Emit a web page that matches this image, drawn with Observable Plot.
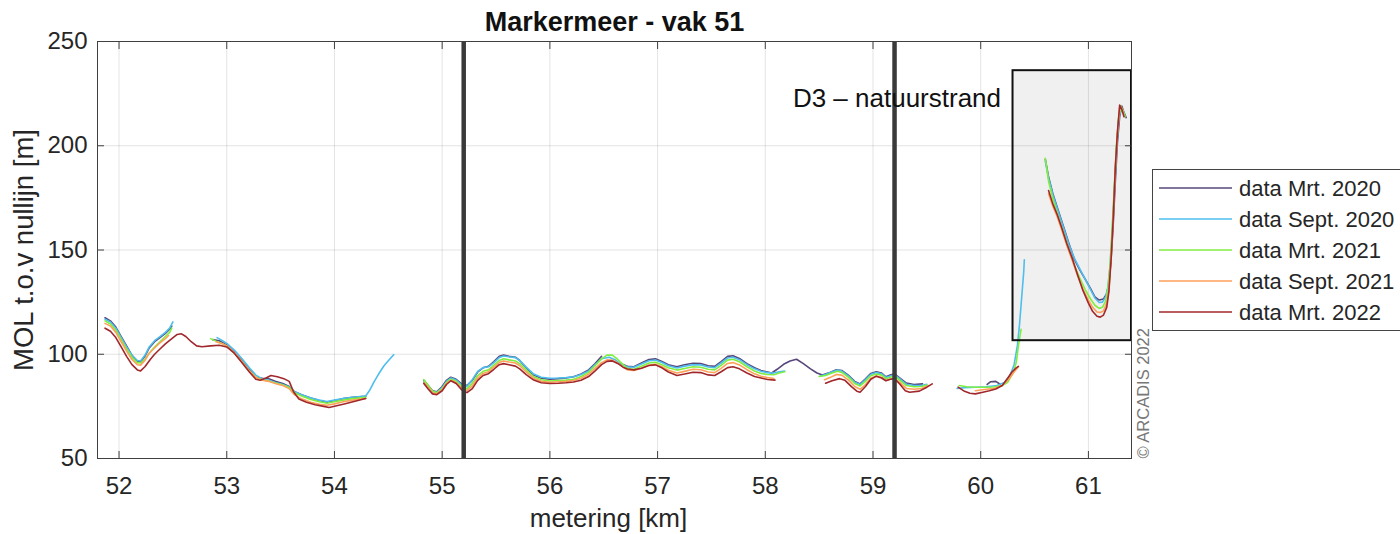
<!DOCTYPE html>
<html>
<head>
<meta charset="utf-8">
<script src="https://cdn.jsdelivr.net/npm/d3@7"></script>
<script src="https://cdn.jsdelivr.net/npm/@observablehq/plot@0.6"></script>
<style>
  html, body { margin: 0; padding: 0; background: #fff; }
  #chart { width: 1400px; height: 534px; }
</style>
</head>
<body>
<div id="chart"></div>
<script>
// Survey lines along the Markermeer shore, section 51: MOL position relative to the baseline per survey.
const surveyNames = ["data Mrt. 2020", "data Sept. 2020", "data Mrt. 2021", "data Sept. 2021", "data Mrt. 2022"];
const surveyColors = ["#57477a", "#4dbeee", "#80ee40", "#ffa05a", "#a0282c"];

// [km, MOL m]; null marks a gap in the survey
const mrt2020 = [
  [51.87,117.5],[51.92,116],[51.97,113],[52.02,108.5],[52.07,104],[52.12,99.5],[52.17,96.5],[52.2,96.3],[52.24,99],[52.28,103],[52.33,106],[52.38,108],[52.43,110],[52.47,112],[52.49,113.5], null,
  [52.87,107],[52.93,106.5],[53.0,104.5],[53.07,101],[53.14,97],[53.21,92.5],[53.27,89],[53.33,88.5],[53.39,88.3],[53.45,87],[53.52,86],[53.58,84.5],[53.63,82],[53.7,80.5],[53.78,79],[53.86,77.8],[53.93,77],[54.0,77.8],[54.08,78.7],[54.17,79.3],[54.29,79.8], null,
  [54.83,87.5],[54.87,85],[54.91,82.5],[54.95,82],[55.0,84.5],[55.04,87.5],[55.08,89],[55.13,88],[55.18,85.8],[55.23,85],[55.28,87.5],[55.33,91.5],[55.38,93.5],[55.43,94.2],[55.48,96.5],[55.53,99],[55.57,99.6],[55.62,99],[55.68,98.6],[55.72,97],[55.78,93.5],[55.85,90],[55.92,88.5],[56.0,88],[56.08,88.3],[56.15,88.6],[56.22,89.2],[56.29,90.5],[56.36,92.5],[56.42,95.5],[56.48,99], null,
  [56.66,95.5],[56.72,94.2],[56.78,94],[56.85,95.8],[56.92,97.5],[56.98,97.8],[57.04,96.5],[57.1,95],[57.18,94],[57.25,95],[57.33,95.7],[57.4,95.5],[57.47,94.5],[57.53,94.2],[57.59,96.5],[57.65,99],[57.7,99.3],[57.76,98],[57.83,95.5],[57.9,93.5],[57.96,92.2],[58.02,91.5],[58.06,91],[58.11,92.8],[58.17,95.2],[58.23,96.8],[58.29,97.6],[58.35,95.6],[58.42,93],[58.48,91],[58.53,90],[58.6,91.2],[58.66,92.6],[58.71,92.2],[58.77,90],[58.83,87],[58.88,85.8],[58.93,88.2],[58.98,90.8],[59.03,91.6],[59.08,91],[59.12,89.2],[59.16,90],[59.2,90.6],[59.25,88.6],[59.31,86.2],[59.38,85.5],[59.46,85.8], null,
  [60.06,85.5],[60.09,86.8],[60.14,87],[60.18,85.6], null,
  [60.6,193.5],[60.63,185],[60.67,177],[60.72,169],[60.77,161],[60.82,153],[60.87,145.5],[60.92,140.5],[60.97,136],[61.02,131.5],[61.06,127.5],[61.1,126],[61.14,126.5],[61.17,129],[61.19,134],[61.21,145],[61.23,162],[61.25,183],[61.27,202],[61.29,214],[61.31,219],[61.33,216],[61.35,213.5]
];

const sept2020 = [
  [51.87,116.8],[51.92,115.5],[51.97,112.5],[52.02,108],[52.07,103.5],[52.12,99.5],[52.17,97],[52.2,96.8],[52.24,99.5],[52.28,103.5],[52.33,106.5],[52.38,108.5],[52.43,110.5],[52.47,112.5],[52.5,115.5], null,
  [52.91,108],[52.96,106.5],[53.0,105.2],[53.07,102],[53.14,98],[53.21,93.5],[53.27,90],[53.33,88.2],[53.39,87.5],[53.45,86.5],[53.52,85.5],[53.58,84.3],[53.63,82],[53.7,80.5],[53.78,79],[53.86,78],[53.93,77.3],[54.0,78],[54.08,78.8],[54.17,79.4],[54.29,80],[54.33,83],[54.37,87],[54.41,90.5],[54.46,94.5],[54.51,97.5],[54.55,99.8], null,
  [54.83,87],[54.87,84.6],[54.91,82.2],[54.95,81.7],[55.0,84],[55.04,87],[55.08,88.6],[55.13,87.6],[55.18,85.3],[55.23,84.6],[55.28,87.8],[55.33,91.8],[55.38,93.6],[55.43,94],[55.48,96],[55.53,98.4],[55.57,99.2],[55.62,98.8],[55.68,98.4],[55.72,97],[55.78,93.8],[55.85,90.5],[55.92,89],[56.0,88.5],[56.08,88.6],[56.15,88.8],[56.22,89.2],[56.29,90.3],[56.36,92],[56.42,95],[56.48,97.8],[56.55,98.6],[56.61,97.2],[56.66,95.2],[56.72,94],[56.78,93.8],[56.85,95.3],[56.92,96.9],[56.98,97.2],[57.04,96],[57.1,94.5],[57.18,93.4],[57.25,94.3],[57.33,95],[57.4,94.9],[57.47,93.9],[57.53,93.6],[57.59,95.8],[57.65,98.2],[57.7,98.6],[57.76,97.4],[57.83,95],[57.9,93],[57.96,91.8],[58.02,91.2],[58.08,91],[58.13,91.6],[58.18,91.9], null,
  [58.51,89.6],[58.56,90.3],[58.62,91.6],[58.67,92.4],[58.71,91.9],[58.77,89.6],[58.83,86.6],[58.88,85.5],[58.93,87.8],[58.98,90.4],[59.03,91.2],[59.08,90.6],[59.12,88.9],[59.16,89.6],[59.2,90.2],[59.25,88.2],[59.31,85.6],[59.38,85],[59.45,85],[59.5,85.6], null,
  [59.78,83.6],[59.85,84],[59.95,84.2],[60.05,84.4],[60.15,85],[60.22,86.5],[60.27,89.5],[60.31,95],[60.34,104],[60.36,114],[60.38,127],[60.4,140],[60.405,145.3], null,
  [60.6,192.5],[60.63,184.5],[60.67,176.5],[60.72,168.5],[60.77,160.5],[60.82,152.5],[60.87,146],[60.92,141],[60.97,136],[61.02,131],[61.06,127],[61.1,124.8],[61.13,125],[61.16,127.5],[61.18,132],[61.2,142],[61.22,158],[61.24,178],[61.26,198],[61.28,212],[61.3,218],[61.32,217],[61.34,214]
];

const mrt2021 = [
  [51.87,116],[51.92,114.5],[51.97,111.5],[52.02,107],[52.07,102.5],[52.12,98.5],[52.17,96],[52.2,95.8],[52.24,97.5],[52.28,100.5],[52.33,103.5],[52.38,106],[52.43,108.5],[52.47,110.5],[52.49,112.5], null,
  [52.85,107.5],[52.9,106.3],[52.96,105],[53.0,104],[53.07,100.5],[53.14,96.5],[53.21,92],[53.27,89],[53.33,87.8],[53.39,87.2],[53.45,86.2],[53.52,85.2],[53.58,84],[53.63,81.5],[53.7,79.8],[53.78,78.3],[53.86,77.2],[53.93,76.5],[54.0,77.2],[54.08,78],[54.17,78.7],[54.29,79.3], null,
  [54.83,87.8],[54.87,85],[54.91,82.3],[54.95,81.5],[55.0,83.5],[55.04,86.5],[55.08,88],[55.13,87],[55.18,84.5],[55.23,83.5],[55.28,86],[55.33,89.8],[55.38,91.8],[55.43,92.5],[55.48,94.8],[55.53,97],[55.57,97.8],[55.62,97.3],[55.68,96.8],[55.72,95.5],[55.78,92.5],[55.85,89.2],[55.92,87.8],[56.0,87.2],[56.08,87.4],[56.15,87.6],[56.22,88],[56.29,89.3],[56.36,91.3],[56.42,94.5],[56.48,97.8],[56.53,99.6],[56.58,99.6],[56.63,97.5],[56.68,95],[56.72,93.2],[56.78,92.8],[56.85,94.2],[56.92,95.8],[56.98,96.2],[57.04,95],[57.1,93.5],[57.18,92.4],[57.25,93.2],[57.33,94],[57.4,93.8],[57.47,92.8],[57.53,92.5],[57.59,94.7],[57.65,97.2],[57.7,97.6],[57.76,96.4],[57.83,94],[57.9,92],[57.96,90.8],[58.02,90.3],[58.08,90.2],[58.13,91],[58.18,91.6], null,
  [58.5,89.3],[58.56,89.8],[58.62,91],[58.67,91.8],[58.71,91.3],[58.77,89],[58.83,86],[58.88,84.8],[58.93,87],[58.98,89.7],[59.03,90.5],[59.08,90],[59.12,88.3],[59.16,89],[59.2,89.6],[59.25,87.5],[59.31,85],[59.38,84.4],[59.45,84.5],[59.5,85.2], null,
  [59.8,85],[59.87,84.4],[59.95,84.2],[60.05,84.2],[60.12,84.3],[60.2,85],[60.25,86.5],[60.3,91],[60.33,96],[60.35,104],[60.375,112], null,
  [60.6,194],[60.63,183],[60.67,174.5],[60.72,166],[60.77,158],[60.82,150],[60.87,142.5],[60.92,136.5],[60.97,131],[61.02,126.5],[61.06,123.5],[61.1,122],[61.13,122.5],[61.16,125.5],[61.18,131],[61.2,142],[61.22,160],[61.24,180],[61.26,200],[61.28,213],[61.3,219],[61.32,217],[61.34,214]
];

const sept2021 = [
  [51.87,114.8],[51.92,113.5],[51.97,110.5],[52.02,106],[52.07,101.5],[52.12,97.5],[52.17,95],[52.2,94.8],[52.24,97],[52.28,100.5],[52.33,103],[52.38,105.5],[52.43,107.5],[52.46,109], null,
  [52.9,106],[52.96,105],[53.0,104],[53.07,100.8],[53.14,96.5],[53.21,92],[53.27,88.8],[53.33,87.5],[53.39,87],[53.45,86],[53.52,85],[53.58,83.5],[53.63,80.5],[53.7,78.5],[53.78,77],[53.86,76],[53.93,75.5],[54.0,76.2],[54.08,77.2],[54.17,78],[54.29,78.8], null,
  [54.83,86.5],[54.87,84],[54.91,81.5],[54.95,81],[55.0,83],[55.04,86],[55.08,87.5],[55.13,86.4],[55.18,83.8],[55.23,82.6],[55.28,84.8],[55.33,88.6],[55.38,90.8],[55.43,91.6],[55.48,93.8],[55.53,96],[55.57,96.8],[55.62,96.3],[55.68,95.8],[55.72,94.5],[55.78,91.5],[55.85,88.4],[55.92,87],[56.0,86.6],[56.08,86.8],[56.15,87],[56.22,87.4],[56.29,88.5],[56.36,90.4],[56.42,93.2],[56.48,96],[56.53,97.3],[56.58,97.2],[56.63,95.8],[56.68,93.8],[56.72,92.5],[56.78,92.2],[56.85,93.3],[56.92,94.8],[56.98,95.2],[57.04,94],[57.1,92.3],[57.18,91],[57.25,91.8],[57.33,92.8],[57.4,92.6],[57.47,91.5],[57.53,91.2],[57.59,93.2],[57.65,95.6],[57.7,96],[57.76,94.9],[57.83,92.6],[57.9,90.6],[57.96,89.4],[58.02,88.8],[58.08,88.4], null,
  [58.55,87.8],[58.6,88.8],[58.66,90.3],[58.71,90],[58.77,87.7],[58.83,84.5],[58.88,83.2],[58.93,85.5],[58.98,88.5],[59.03,89.5],[59.08,89],[59.12,87.4],[59.16,88],[59.2,88.6],[59.25,86.4],[59.31,83.6],[59.38,83.2],[59.45,83.6],[59.52,85], null,
  [59.95,82.5],[60.05,83.2],[60.12,83.5],[60.2,85],[60.26,88],[60.31,91.5],[60.35,94], null,
  [60.63,177],[60.67,171],[60.71,166],[60.75,160],[60.8,152],[60.85,145],[60.9,137.5],[60.95,131],[61.0,126],[61.04,122.5],[61.08,120.3],[61.11,120],[61.14,120.8],[61.17,124.5],[61.19,131],[61.21,146],[61.23,165],[61.25,188],[61.27,206],[61.29,218],[61.31,218],[61.33,214]
];

const mrt2022 = [
  [51.87,112.5],[51.92,111],[51.97,108],[52.02,103.5],[52.07,99],[52.12,95],[52.17,92.5],[52.2,92],[52.24,94],[52.29,97.5],[52.33,100],[52.38,102.5],[52.43,105],[52.49,107.5],[52.54,109.5],[52.58,109.8],[52.62,108.5],[52.67,106],[52.72,104],[52.77,103.6],[52.85,104],[52.93,104.3],[53.0,103.5],[53.07,100.5],[53.14,96],[53.21,91.5],[53.27,88],[53.31,87.5],[53.36,88.5],[53.41,89.8],[53.47,89.2],[53.53,88.3],[53.58,87],[53.62,82],[53.67,78.5],[53.74,77],[53.82,75.8],[53.9,75],[53.95,74.5],[54.02,75.3],[54.1,76.3],[54.19,77.5],[54.29,78.8], null,
  [54.83,86],[54.87,83.3],[54.91,81],[54.95,80.6],[55.0,82.5],[55.04,85.5],[55.08,87.3],[55.13,86],[55.18,83],[55.23,81.6],[55.28,83.5],[55.33,87.5],[55.38,89.8],[55.43,90.7],[55.48,92.8],[55.53,95],[55.57,95.5],[55.62,95],[55.68,94.3],[55.72,93],[55.78,90.2],[55.85,87.6],[55.92,86.3],[56.0,86],[56.08,86.1],[56.15,86.3],[56.22,86.7],[56.29,87.5],[56.36,89.3],[56.42,92],[56.48,95],[56.53,96.6],[56.58,96.8],[56.63,95.6],[56.68,93.8],[56.72,92.9],[56.78,92.5],[56.85,93.3],[56.92,94.6],[56.98,94.9],[57.04,93.5],[57.1,91.5],[57.18,89.8],[57.25,90.5],[57.33,91.4],[57.4,91.2],[57.47,90.1],[57.53,89.8],[57.59,91.6],[57.65,93.6],[57.7,94],[57.76,93],[57.83,91],[57.9,89.3],[57.96,88.6],[58.02,87.9],[58.09,87.6], null,
  [58.56,86.1],[58.62,87.3],[58.69,88.3],[58.74,87.5],[58.8,84.5],[58.85,82.3],[58.88,81.8],[58.93,84.5],[58.98,88],[59.03,89.5],[59.08,88.6],[59.12,87.3],[59.16,88],[59.2,88.3],[59.25,85.6],[59.3,82.5],[59.34,81.8],[59.43,82.3],[59.5,84.2],[59.55,85.8], null,
  [59.79,84.2],[59.85,82.2],[59.9,81.3],[59.95,81],[60.02,81.8],[60.08,82.5],[60.14,83.3],[60.2,85],[60.25,88.5],[60.29,91.5],[60.33,93.5],[60.35,94.2], null,
  [60.63,178.5],[60.67,172],[60.71,167],[60.75,161],[60.8,153],[60.85,146],[60.9,138],[60.95,130.5],[61.0,124.5],[61.04,120.5],[61.08,118.2],[61.11,117.8],[61.14,118.8],[61.17,122.5],[61.19,130],[61.21,145],[61.23,165],[61.25,190],[61.27,207],[61.29,219.5],[61.31,217.5],[61.33,214]
];

const surveys = [mrt2020, sept2020, mrt2021, sept2021, mrt2022];

// Axis ticks
const kmTicks = [52, 53, 54, 55, 56, 57, 58, 59, 60, 61];
const molTicks = [50, 100, 150, 200, 250];

// Section boundaries (thick vertical lines) and the D3 beach area
const sectionBounds = [55.2, 59.2];
const beachArea = [{x1: 60.3, x2: 61.4, y1: 106.5, y2: 236}];
const beachLabel = "D3 – natuurstrand";
const beachLabelMol = 222.7;

const titleText = "Markermeer - vak 51";
const xLabel = "metering [km]";
const yLabel = "MOL t.o.v nullijn [m]";
const creditText = "© ARCADIS 2022";

const rows = surveys.flatMap((pts, i) =>
  pts.map(p => p === null
    ? {km: NaN, mol: NaN, survey: surveyNames[i]}
    : {km: p[0], mol: p[1], survey: surveyNames[i]}));

const FONT = "'Liberation Sans', Arial, Helvetica, sans-serif";
const INK = "#262626";

const chart = Plot.plot({
  width: 1400,
  height: 534,
  marginLeft: 97,
  marginRight: 269,
  marginTop: 41,
  marginBottom: 76,
  style: {fontFamily: FONT, background: "#fff", color: INK, overflow: "visible"},
  x: {domain: [51.8, 61.4], label: null},
  y: {domain: [50, 250], label: null},
  color: {domain: surveyNames, range: surveyColors},
  marks: [
    Plot.rect(beachArea, {x1: "x1", x2: "x2", y1: "y1", y2: "y2", fill: "#f0f0f0"}),
    Plot.gridX(kmTicks, {stroke: "#000", strokeOpacity: 0.11}),
    Plot.gridY(molTicks, {stroke: "#000", strokeOpacity: 0.11}),
    Plot.line(rows, {x: "km", y: "mol", z: "survey", stroke: "survey", strokeWidth: 1.6, curve: "linear"}),
    Plot.ruleX(sectionBounds, {stroke: "#3a3a3a", strokeWidth: 4.5}),
    Plot.rect(beachArea, {x1: "x1", x2: "x2", y1: "y1", y2: "y2", fill: "none", stroke: "#111", strokeWidth: 2}),
    Plot.frame({stroke: "#404040"}),
    Plot.axisX(kmTicks, {anchor: "bottom", tickSize: -7, tickPadding: 25, fontSize: 24, color: "#404040", fill: INK, label: null, tickFormat: d => String(d)}),
    Plot.axisX(kmTicks, {anchor: "top", tickSize: -7, color: "#404040", label: null, tickFormat: () => ""}),
    Plot.axisY(molTicks, {anchor: "left", tickSize: -7, tickPadding: 17, fontSize: 24, color: "#404040", fill: INK, label: null, tickFormat: d => String(d)}),
    Plot.axisY(molTicks, {anchor: "right", tickSize: -7, color: "#404040", label: null, tickFormat: () => ""}),
    Plot.text([beachLabel], {x: beachArea[0].x1, y: beachLabelMol, text: d => d, textAnchor: "end", lineAnchor: "middle", dx: -12, fontSize: 26, fill: "#111"}),
    Plot.text([titleText], {frameAnchor: "top", text: d => d, textAnchor: "middle", lineAnchor: "middle", dy: -19, fontSize: 27, fontWeight: "bold", fill: "#111"}),
    Plot.text([xLabel], {frameAnchor: "bottom", text: d => d, textAnchor: "middle", lineAnchor: "middle", dy: 60, dx: -6, fontSize: 26, fill: INK}),
    Plot.text([yLabel], {frameAnchor: "left", text: d => d, rotate: -90, textAnchor: "middle", lineAnchor: "middle", dx: -73, fontSize: 27.5, fill: INK}),
    Plot.text([creditText], {frameAnchor: "bottom-right", text: d => d, rotate: -90, textAnchor: "start", lineAnchor: "middle", dx: 12, fontSize: 16.5, fill: "#777"})
  ]
});

document.getElementById("chart").appendChild(chart);

// Legend box to the right of the axes
const svg = d3.select(chart);
const legend = svg.append("g").attr("font-family", FONT).attr("text-anchor", "start");
legend.append("rect")
  .attr("x", 1152.5).attr("y", 169.5).attr("width", 260).attr("height", 161)
  .attr("fill", "#fff").attr("stroke", "#444").attr("stroke-width", 1);
surveyNames.forEach((name, i) => {
  const cy = 188 + i * 31;
  legend.append("line")
    .attr("x1", 1159).attr("x2", 1232).attr("y1", cy).attr("y2", cy)
    .attr("stroke", surveyColors[i]).attr("stroke-width", 1.5);
  legend.append("text")
    .attr("x", 1239).attr("y", cy).attr("dy", "0.35em")
    .attr("text-anchor", "start")
    .attr("font-size", 22).attr("fill", INK)
    .text(name);
});
</script>
</body>
</html>
